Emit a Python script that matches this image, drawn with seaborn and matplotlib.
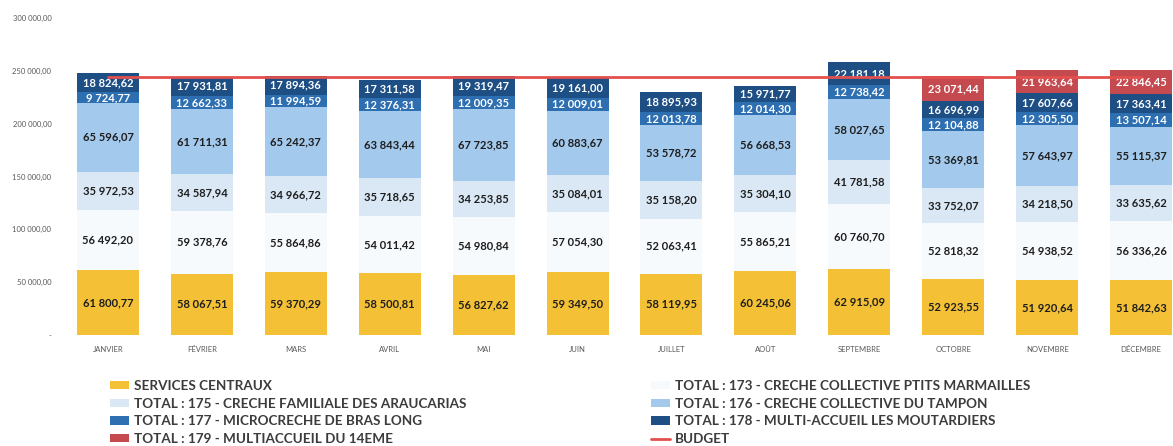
import numpy as np
import pandas as pd
import matplotlib
matplotlib.use("Agg")
import matplotlib.pyplot as plt
import seaborn as sns
from matplotlib.patches import Patch
from matplotlib.lines import Line2D
from matplotlib.ticker import FuncFormatter

months = ["JANVIER", "FÉVRIER", "MARS", "AVRIL", "MAI", "JUIN", "JUILLET",
          "AOÛT", "SEPTEMBRE", "OCTOBRE", "NOVEMBRE", "DÉCEMBRE"]

services_centraux = [61800.77, 58067.51, 59370.29, 58500.81, 56827.62, 59349.50,
                     58119.95, 60245.06, 62915.09, 52923.55, 51920.64, 51842.63]
creche_173 = [56492.20, 59378.76, 55864.86, 54011.42, 54980.84, 57054.30,
              52063.41, 55865.21, 60760.70, 52818.32, 54938.52, 56336.26]
creche_175 = [35972.53, 34587.94, 34966.72, 35718.65, 34253.85, 35084.01,
              35158.20, 35304.10, 41781.58, 33752.07, 34218.50, 33635.62]
creche_176 = [65596.07, 61711.31, 65242.37, 63843.44, 67723.85, 60883.67,
              53578.72, 56668.53, 58027.65, 53369.81, 57643.97, 55115.37]
micro_177 = [9724.77, 12662.33, 11994.59, 12376.31, 12009.35, 12009.01,
             12013.78, 12014.30, 12738.42, 12104.88, 12305.50, 13507.14]
multi_178 = [18824.62, 17931.81, 17894.36, 17311.58, 19319.47, 19161.00,
             18895.93, 15971.77, 22181.18, 16696.99, 17607.66, 17363.41]
multi_179 = [None, None, None, None, None, None,
             None, None, None, 23071.44, 21963.64, 22846.45]
budget = [244500, 244500, 244500, 244500, 244500, 244500,
          244500, 244500, 244500, 244500, 244500, 244500]

labels = ["SERVICES CENTRAUX",
          "TOTAL : 173 - CRECHE COLLECTIVE PTITS MARMAILLES",
          "TOTAL : 175 - CRECHE FAMILIALE DES ARAUCARIAS",
          "TOTAL : 176 - CRECHE COLLECTIVE DU TAMPON",
          "TOTAL : 177 - MICROCRECHE DE BRAS LONG",
          "TOTAL : 178 - MULTI-ACCUEIL LES MOUTARDIERS",
          "TOTAL : 179 - MULTIACCUEIL DU 14EME"]
colors = ["#f4c136", "#f7fafd", "#dae8f5", "#a3c9ec", "#2e6fb2", "#1d4f85", "#c44a50"]
text_colors = ["#1e1e1e", "#1e1e1e", "#1e1e1e", "#1e1e1e", "white", "white", "white"]
layers = [services_centraux, creche_173, creche_175, creche_176, micro_177, multi_178, multi_179]

sns.set_theme(style="white")
plt.rcParams['font.family'] = ['Lato', 'DejaVu Sans']

W, H = 1173, 446
fig = plt.figure(figsize=(W / 100, H / 100), dpi=100)
ax = fig.add_axes([61 / W, 111 / H, 1112 / W, 317 / H])

vals = [np.array(l, dtype=float) for l in layers]
# cumulative tops (layer 179 is NaN where absent)
tops = []
base = np.zeros(len(months))
for v in vals:
    top = base + v
    tops.append(top)
    base = np.where(np.isnan(v), base, top)

for i in reversed(range(len(vals))):
    df = pd.DataFrame({"mois": months, "v": tops[i]})
    sns.barplot(data=df, x="mois", y="v", order=months, color=colors[i],
                saturation=1, width=0.66, errorbar=None, ax=ax,
                edgecolor="none", linewidth=0)

def fmt(v):
    return f"{v:,.2f}".replace(",", " ").replace(".", ",")

for i, v in enumerate(vals):
    for j in range(len(months)):
        if np.isnan(v[j]):
            continue
        ax.text(j, tops[i][j] - v[j] / 2, fmt(v[j]), ha="center", va="center",
                fontsize=8, fontweight="bold", color=text_colors[i], zorder=4)

sns.lineplot(x=np.arange(len(months)), y=budget, color="#e2504e", lw=2,
             ax=ax, zorder=5)

ax.set_xlim(-0.5, 11.34)
ax.set_ylim(0, 300000)
ax.set_yticks(np.arange(0, 300001, 50000))
ax.yaxis.set_major_formatter(FuncFormatter(
    lambda y, p: "-" if y == 0 else f"{y:,.2f}".replace(",", " ").replace(".", ",")))
ax.set_xlabel("")
ax.set_ylabel("")
ax.tick_params(axis="both", length=0, labelsize=5.5, labelcolor="#595959")
ax.tick_params(axis="x", pad=8)
ax.tick_params(axis="y", pad=7)
sns.despine(ax=ax, left=True, bottom=True)

handles = [Patch(facecolor=c, edgecolor="none") for c in colors]
budget_h = Line2D([], [], color="#e2504e", lw=2)
col1 = [(handles[0], labels[0]), (handles[2], labels[2]), (handles[4], labels[4]), (handles[6], labels[6])]
col2 = [(handles[1], labels[1]), (handles[3], labels[3]), (handles[5], labels[5]), (budget_h, "BUDGET")]
prop = dict(family="Lato", weight="bold", size=9.7)
for col, x0 in ((col1, 110), (col2, 651)):
    fig.legend([h for h, _ in col], [l for _, l in col], loc="upper left",
               bbox_to_anchor=(x0 / W, 1 - 380 / H), frameon=False, prop=prop,
               labelcolor="#3c3c3c", handlelength=1.4, handleheight=0.55,
               handletextpad=0.4, labelspacing=0.42, borderpad=0, borderaxespad=0)

fig.savefig("out.png", dpi=100)
